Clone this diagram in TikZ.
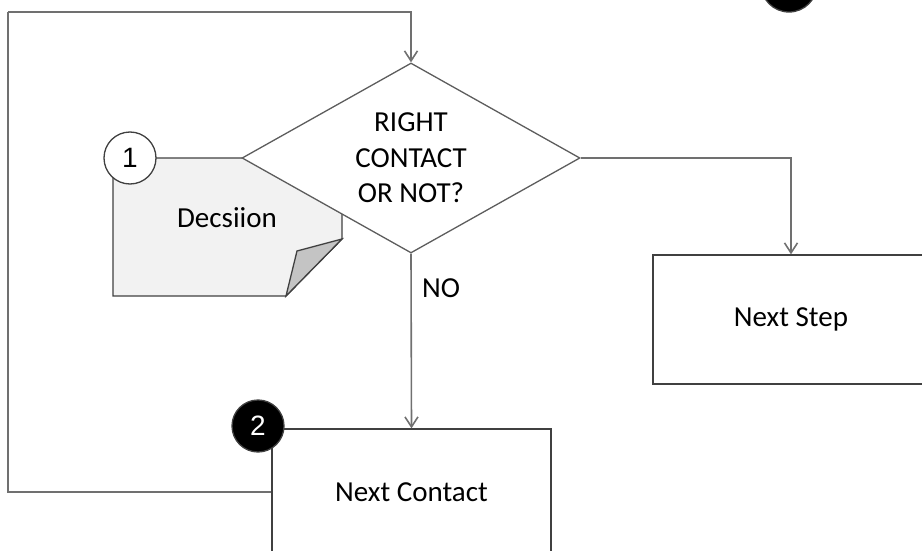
\documentclass[tikz,border=0pt]{standalone}
\usepackage{fontspec}
\setmainfont{Carlito}
\newfontfamily\digitfont{Liberation Sans}
\usetikzlibrary{shapes.geometric,arrows.meta}
\definecolor{linegray}{HTML}{707070}
\definecolor{boxline}{HTML}{404040}
\definecolor{notefill}{HTML}{F2F2F2}
\definecolor{flapfill}{HTML}{C4C4C4}
\definecolor{inktext}{HTML}{000000}
\tikzset{
  conn/.style={draw=linegray, line width=1.6pt, -{Straight Barb[length=10pt,width=13pt]}},
  loopline/.style={draw=linegray, line width=1.6pt},
  procbox/.style={draw=boxline, line width=1.3pt, fill=white, rectangle, inner sep=0pt},
  decision/.style={diamond, draw=boxline!85, line width=1.3pt, fill=white, inner sep=0pt,
    aspect=1.78, minimum width=338pt, minimum height=190pt, align=center},
  label/.style={font=\fontsize{29}{35.5}\selectfont, text=inktext},
  badge/.style={circle, draw=boxline, line width=1.3pt, minimum size=52pt, inner sep=0pt,
    font=\digitfont\fontsize{28}{32}\selectfont},
}
\begin{document}
\begin{tikzpicture}[x=1pt,y=-1pt]
  \useasboundingbox (0,0) rectangle (922,551);
  \clip (0,0) rectangle (922,551);

  % folded note behind the decision
  \path[draw=boxline, line width=1.3pt, fill=notefill]
    (113,158) -- (342,158) -- (342,239) -- (286,296) -- (113,296) -- cycle;
  \path[draw=boxline, line width=1.3pt, fill=flapfill]
    (342,239) -- (297,251) -- (286,296) -- cycle;
  \node[label] (notetext) at (227,218) {Decsiion};

  % decision and process boxes
  \node[decision, label] (dia) at (411,158) {RIGHT\\CONTACT\\OR NOT?};
  \node[procbox, minimum width=276pt, minimum height=129pt, label] (ns) at (791,319.5) {Next Step};
  \node[procbox, minimum width=279pt, minimum height=126pt, label] (nc) at (411.5,492) {Next Contact};

  % numbered badges
  \node[badge, fill=white, text=inktext] (b1) at (130,158) {1};
  \node[badge, fill=black, text=white] (b2) at (258,426) {2};
  \node[badge, fill=black, minimum size=56pt] (b3) at (789,-16) {};

  % connectors
  \coordinate (loop) at (8,12);
  \draw[loopline] (nc.west) -| (loop);
  \draw[conn] (loop) -| (dia.north);
  \draw[conn] (dia.east) -| (ns.north);
  \draw[conn] (dia.south) -- (nc.north);
  \node[label] (no) at (441,288) {NO};
\end{tikzpicture}
\end{document}
